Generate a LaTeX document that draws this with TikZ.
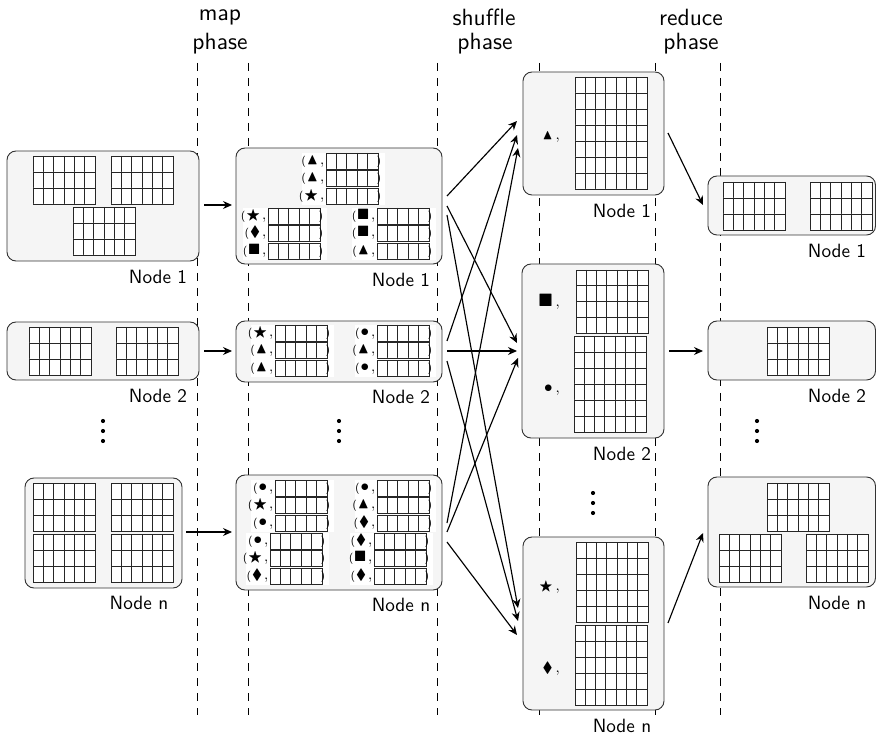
\documentclass[tikz,border=0pt]{standalone}
\usepackage{fontspec}
\usepackage{graphicx}
\usepackage{amssymb}
\usetikzlibrary{arrows.meta,fit}
\newcommand{\sT}{\scalebox{1.55}{$\blacktriangle$}}
\newcommand{\sS}{\scalebox{1.45}{$\bigstar$}}
\newcommand{\sQ}{\scalebox{1.5}{$\blacksquare$}}
\newcommand{\sD}{\scalebox{1.5}{$\blacklozenge$}}
\newcommand{\sC}{\scalebox{1.7}{$\bullet$}}
\newcommand{\cma}{\scalebox{1.5}{$,$}}
\tikzset{
  x=1pt,y=-1pt,
  phaseline/.style={dashed,dash pattern=on 8pt off 7pt,line width=0.8pt,black},
  pnode/.style={draw=black!80,fill=black!4,line width=0.9pt,rounded corners=9pt,inner sep=0pt},
  cellgrid/.style={draw=black!85,line width=0.85pt,fill=white},
  arr/.style={-{Stealth[length=9pt,width=8pt,inset=3pt]},line width=1.15pt,black},
  lbl/.style={font=\sffamily,inner sep=0pt,anchor=center},
  head/.style={font=\sffamily,inner sep=0pt,anchor=center},
  tupl/.style={font=\sffamily,inner sep=0pt,anchor=base east},
  tupr/.style={font=\sffamily,inner sep=0pt,anchor=base west},
  shs/.style={font=\sffamily,inner sep=0pt,anchor=base east},
  dotmark/.style={circle,fill=black,inner sep=0pt,minimum size=4.2pt},
  whitebg/.style={fill=white,draw=none},
}
\newcommand{\nl}[1]{\scalebox{1.92}{#1}}
\newcommand{\hd}[1]{\scalebox{2.35}{#1}}
% grid: x1 y1 x2 y2 cols rows
\newcommand{\grd}[6]{%
  \path[cellgrid,draw] (#1,#2) rectangle (#3,#4);
  \foreach \i in {1,...,#5}{\pgfmathsetmacro{\xx}{#1+(#3-#1)*\i/#5}\draw[cellgrid] (\xx,#2) -- (\xx,#4);}
  \foreach \j in {1,...,#6}{\pgfmathsetmacro{\yy}{#2+(#4-#2)*\j/#6}\draw[cellgrid] (#1,\yy) -- (#3,\yy);}
}
\newcommand{\gsix}[2]{\grd{#1}{#2}{\the\numexpr#1+62\relax}{\the\numexpr#2+48\relax}{6}{3}}
\newcommand{\tup}[3]{% x y symbol
  \grd{#1}{#2}{\the\numexpr#1+52\relax}{\the\numexpr#2+16\relax}{5}{1}
  \node[tupl] (tl-#1-#2) at (#1-1.5,#2+11.5) {\scalebox{1.1}{(}\hspace{1pt}#3\hspace{2pt}\cma};
  \node[tupr] (tr-#1-#2) at (#1+50.5,#2+11.5) {\scalebox{1.1}{)}};
}
\newcommand{\tripl}[6]{% x y bgwidthleft s1 s2 s3
  \fill[whitebg] (#1-#3,#2) rectangle (#1+59,#2+52);
  \tup{#1}{#2}{#4}
  \tup{#1}{\the\numexpr#2+17\relax}{#5}
  \tup{#1}{\the\numexpr#2+35\relax}{#6}
}
\newcommand{\bx}[5]{\node[pnode,fit={(#2,#3)(#4,#5)}] (#1) {};}
\begin{document}
\begin{tikzpicture}
\useasboundingbox (0,0) rectangle (876,735);
% phase separators
\foreach \px in {197,248,437,539,655,720}{\draw[phaseline] (\px,63) -- (\px,715);}
% headers
\node[head] (h1a) at (220,17) {\hd{map}};
\node[head] (h1b) at (220,44) {\hd{phase}};
\node[head] (h2a) at (484,17) {\hd{shuffle}};
\node[head] (h2b) at (485,44) {\hd{phase}};
\node[head] (h3a) at (691,17) {\hd{reduce}};
\node[head] (h3b) at (691,44) {\hd{phase}};
% left column
\bx{L1}{7}{151}{199}{261}
\gsix{33}{156}\gsix{111}{156}\gsix{73}{207}
\bx{L2}{7}{322}{199}{380}
\gsix{29}{327}\gsix{116}{327}
\bx{Ln}{25}{478}{182}{588}
\gsix{33}{483}\gsix{111}{483}\gsix{33}{534}\gsix{111}{534}
\node[lbl] (lL1) at (158,277) {\nl{Node 1}};
\node[lbl] (lL2) at (158,396) {\nl{Node 2}};
\node[lbl] (lLn) at (139,603) {\nl{Node n}};
\node[dotmark] (dL1) at (103,421) {};
\node[dotmark] (dL2) at (103,431) {};
\node[dotmark] (dL3) at (103,441) {};
% map output column
\bx{M1}{236}{148}{442}{264}
\tripl{326}{153}{24}{\sT}{\sT}{\sS}
\tripl{268}{208}{25}{\sS}{\sD}{\sQ}
\tripl{377}{208}{25}{\sQ}{\sQ}{\sT}
\bx{M2}{236}{321}{442}{382}
\tripl{275}{325}{24}{\sS}{\sT}{\sT}
\tripl{377}{325}{22}{\sC}{\sT}{\sC}
\bx{Mn}{236}{475}{442}{590}
\tripl{275}{480}{24}{\sC}{\sS}{\sC}
\tripl{377}{480}{22}{\sC}{\sT}{\sD}
\tripl{270}{533}{24}{\sC}{\sS}{\sD}
\tripl{374}{533}{24}{\sD}{\sQ}{\sD}
\node[lbl] (lM1) at (401,280) {\nl{Node 1}};
\node[lbl] (lM2) at (401,397) {\nl{Node 2}};
\node[lbl] (lMn) at (401,605) {\nl{Node n}};
\node[dotmark] (dM1) at (339,421) {};
\node[dotmark] (dM2) at (339,431) {};
\node[dotmark] (dM3) at (339,441) {};
% shuffle column
\bx{S1}{523}{72}{664}{195}
\grd{575}{77}{647}{189}{7}{7}
\node[shs] (sa) at (560,140) {\scalebox{1.4}{$\blacktriangle$}\hspace{3pt}\cma};
\node[lbl] (lS1) at (622,211) {\nl{Node 1}};
\bx{S2}{522}{264}{664}{438}
\grd{576}{270}{648}{333}{7}{4}
\grd{574}{336}{646}{432}{7}{6}
\node[shs] (sb) at (560,307) {\scalebox{1.8}{$\blacksquare$}\hspace{3pt}\cma};
\node[shs] (sc) at (560,392) {\sC\hspace{3pt}\cma};
\node[lbl] (lS2) at (622,454) {\nl{Node 2}};
\bx{Sn}{523}{537}{664}{710}
\grd{576}{542}{648}{622}{7}{5}
\grd{575}{625}{647}{705}{7}{5}
\node[shs] (sd) at (560,590) {\scalebox{1.4}{$\bigstar$}\hspace{3pt}\cma};
\node[shs] (se) at (560,672) {\sD\hspace{3pt}\cma};
\node[lbl] (lSn) at (622,726) {\nl{Node n}};
\node[dotmark] (dS1) at (593,493) {};
\node[dotmark] (dS2) at (593,503) {};
\node[dotmark] (dS3) at (593,513) {};
% reduce column
\bx{R1}{708}{176}{875.5}{235}
\gsix{723}{182}\gsix{810}{182}
\bx{R2}{708}{321}{875.5}{380}
\gsix{767}{327}
\bx{Rn}{708}{477}{875.5}{587}
\gsix{767}{483}\gsix{719}{534}\gsix{806}{534}
\node[lbl] (lR1) at (837,251) {\nl{Node 1}};
\node[lbl] (lR2) at (837,396) {\nl{Node 2}};
\node[lbl] (lRn) at (837,603) {\nl{Node n}};
\node[dotmark] (dR1) at (757,421) {};
\node[dotmark] (dR2) at (757,431) {};
\node[dotmark] (dR3) at (757,441) {};
% connector ends
\coordinate (aL1) at (204,205); \coordinate (bM1) at (232,205);
\coordinate (aL2) at (204,351); \coordinate (bM2) at (232,351);
\coordinate (aLn) at (186,532); \coordinate (bMn) at (232,532);
\coordinate (m1a) at (447,196); \coordinate (m1b) at (447,206); \coordinate (m1c) at (447,215);
\coordinate (m2a) at (447,341); \coordinate (m2b) at (447,351); \coordinate (m2c) at (447,361);
\coordinate (mna) at (447,523); \coordinate (mnb) at (447,532); \coordinate (mnc) at (447,542);
\coordinate (s1a) at (517,121); \coordinate (s1b) at (517,135); \coordinate (s1c) at (518,148);
\coordinate (s2a) at (517,343); \coordinate (s2b) at (517,351); \coordinate (s2c) at (518,358);
\coordinate (sna) at (518,608); \coordinate (snb) at (518,621); \coordinate (snc) at (517,635);
\coordinate (o1) at (668,133); \coordinate (r1) at (703,205);
\coordinate (o2) at (669,351); \coordinate (r2) at (703,351);
\coordinate (on) at (668,623); \coordinate (rn) at (703,533);
% connectors
\draw[arr] (aL1) -- (bM1);
\draw[arr] (aL2) -- (bM2);
\draw[arr] (aLn) -- (bMn);
\draw[arr] (m1a) -- (s1a);
\draw[arr] (m1b) -- (s2a);
\draw[arr] (m1c) -- (sna);
\draw[arr] (m2a) -- (s1b);
\draw[arr] (m2b) -- (s2b);
\draw[arr] (m2c) -- (snb);
\draw[arr] (mna) -- (s1c);
\draw[arr] (mnb) -- (s2c);
\draw[arr] (mnc) -- (snc);
\draw[arr] (o1) -- (r1);
\draw[arr] (o2) -- (r2);
\draw[arr] (on) -- (rn);
\end{tikzpicture}
\end{document}
